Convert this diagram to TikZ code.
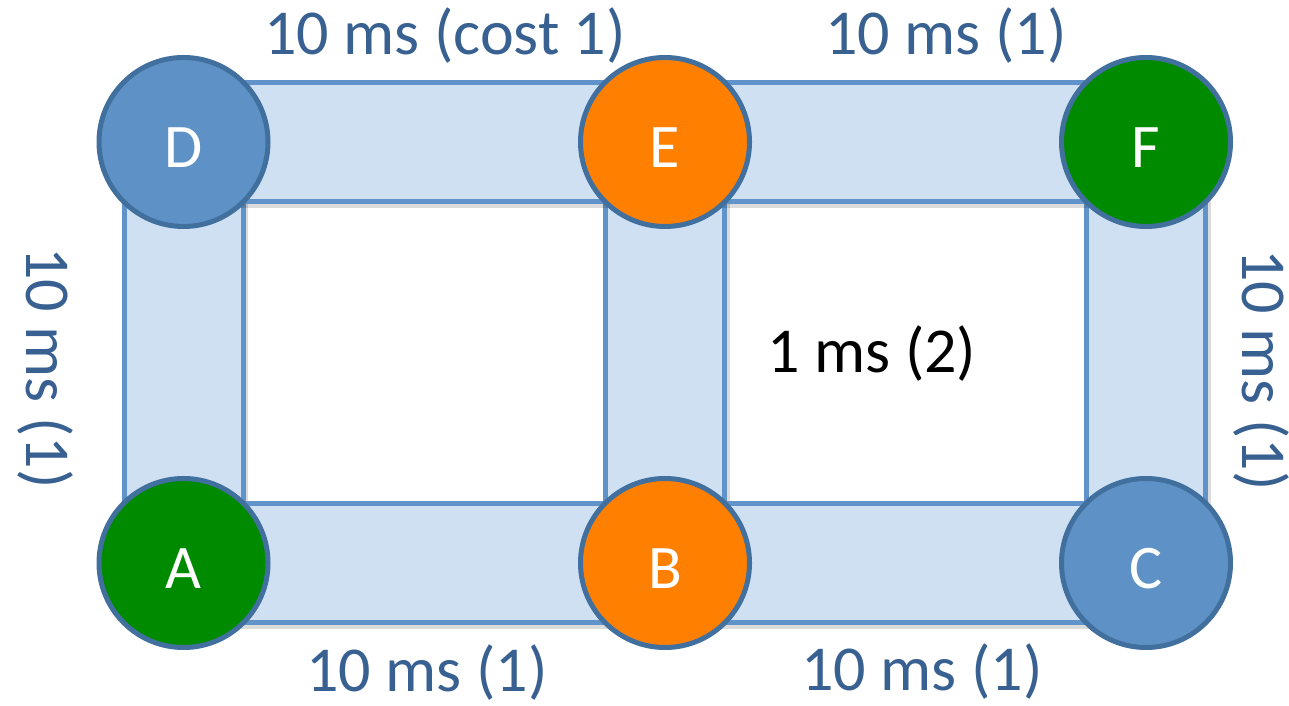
\documentclass[tikz,border=0pt]{standalone}
\usepackage{fontspec}
\setmainfont{Carlito}
\definecolor{barline}{RGB}{96,147,201}
\definecolor{barfill}{RGB}{207,224,242}
\definecolor{ringline}{RGB}{66,112,158}
\definecolor{nodeblue}{RGB}{94,146,198}
\definecolor{nodeorange}{RGB}{255,127,0}
\definecolor{nodegreen}{RGB}{0,138,0}
\definecolor{labelblue}{RGB}{56,97,146}
\pgfdeclarelayer{links}
\pgfsetlayers{links,main}
\begin{document}
\begin{tikzpicture}[x=1pt,y=1pt,
  link/.style={draw=barline, line width=5pt, double=barfill, double distance=114pt},
  linkshadow/.style={line width=126pt, draw=black, opacity=0.14,
    transform canvas={shift={(1.5pt,-3pt)}}},
  router/.style={circle, minimum size=169pt, inner sep=0pt, line width=5pt,
    draw=ringline, text=white, font=\fontsize{62}{70}\selectfont,
    text height=51pt, text depth=0pt},
  cost/.style={text=labelblue, font=\fontsize{64}{72}\selectfont,
    inner sep=0pt, anchor=base}]
\useasboundingbox (0,0) rectangle (1289,706);

% routers
\node[router, fill=nodeblue]   (D) at (183.5,564) {D};
\node[router, fill=nodeorange] (E) at (665,564)   {E};
\node[router, fill=nodegreen]  (F) at (1146,564)  {F};
\node[router, fill=nodegreen]  (A) at (183.5,143) {A};
\node[router, fill=nodeorange] (B) at (665,143)   {B};
\node[router, fill=nodeblue]   (C) at (1146,143)  {C};

% links behind the routers: vertical ones first, horizontal ones on top
\begin{pgfonlayer}{links}
  \foreach \u/\v in {D/A, E/B, F/C} {
    \draw[linkshadow] (\u.center) -- (\v.center);
    \draw[link] (\u.center) -- (\v.center);
  }
  \foreach \u/\v in {D/E, E/F, A/B, B/C} {
    \draw[linkshadow] (\u.center) -- (\v.center);
  }
  \foreach \u/\v in {D/E, E/F, A/B, B/C} {
    \draw[link] (\u.center) -- (\v.center);
  }
\end{pgfonlayer}

% delays and costs
\node[cost] (lDE) at (445,651) {10 ms (cost 1)};
\node[cost] (lEF) at (946,651) {10 ms (1)};
\node[cost] (lAB) at (427,14)  {10 ms (1)};
\node[cost] (lBC) at (922,16)  {10 ms (1)};
\node[cost, rotate=-90] (lDA) at (26,338)   {10 ms (1)};
\node[cost, rotate=-90] (lFC) at (1242,336) {10 ms (1)};
\node[cost, text=black] (lEB) at (872,333)  {1 ms (2)};
\end{tikzpicture}
\end{document}
